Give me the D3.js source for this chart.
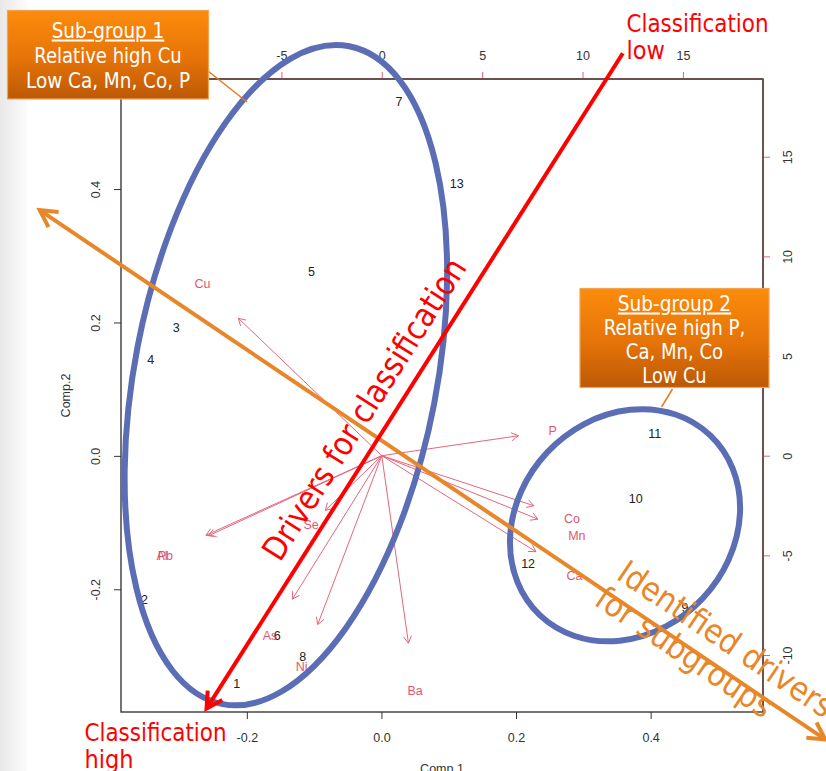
<!DOCTYPE html>
<html lang="en">
<head>
<meta charset="UTF-8">
<title>PCA biplot - sub-groups and drivers</title>
<script src="https://cdn.jsdelivr.net/npm/d3@7"></script>
<style>
  body { margin: 0; background: #fff; }
  svg { display: block; }
  .rtxt { font-family: 'Liberation Sans', Arial, sans-serif; font-size: 12.5px; }
  .slide { font-family: 'DejaVu Sans Condensed', 'DejaVu Sans', sans-serif; }
</style>
</head>
<body>
<script>
// observation scores (bottom / left axes)
const obsLabels = ["1", "2", "3", "4", "5", "6", "7", "8", "9", "10", "11", "12", "13"];
const obsComp1 = [-0.215, -0.352, -0.305, -0.343, -0.104, -0.155, 0.026, -0.117, 0.451, 0.378, 0.406, 0.218, 0.112];
const obsComp2 = [-0.341, -0.216, 0.193, 0.145, 0.276, -0.269, 0.531, -0.301, -0.227, -0.064, 0.033, -0.161, 0.409];

// variable loadings (top / right axes)
const varNames = ["Cu", "P", "Co", "Mn", "Ca", "Ba", "Se", "Al", "Pb", "As", "Ni"];
const varComp1 = [-8.93, 8.51, 9.47, 9.72, 9.60, 1.66, -3.52, -10.95, -10.78, -5.57, -3.99];
const varComp2 = [8.62, 1.25, -3.14, -3.98, -6.02, -11.76, -3.43, -4.99, -5.02, -9.00, -10.59];

// tick labels
const comp1Ticks = [-0.2, 0.0, 0.2, 0.4];
const comp2Ticks = [-0.2, 0.0, 0.2, 0.4];
const loadXTicks = [-5, 0, 5, 10, 15];
const loadYTicks = [-10, -5, 0, 5, 10, 15];

// callout texts
const group1Lines = ["Sub-group 1", "Relative high Cu", "Low Ca, Mn, Co, P"];
const group2Lines = ["Sub-group 2", "Relative high P,", "Ca, Mn, Co", "Low Cu"];
const classLow = ["Classification", "low"];
const classHigh = ["Classification", "high"];
const driverText = "Drivers for classification";
const subgroupText = ["Identified drivers", "for subgroups"];

const W = 826, H = 771;
const svg = d3.select("body").append("svg").attr("width", W).attr("height", H);
const defs = svg.append("defs");

// slide backdrop (soft grey strip on the left)
const bg = defs.append("linearGradient").attr("id", "bgL");
bg.append("stop").attr("offset", 0).attr("stop-color", "#e8e8e8");
bg.append("stop").attr("offset", 1).attr("stop-color", "#fbfbfb");
svg.append("rect").attr("x", 0).attr("y", 0).attr("width", 27).attr("height", H).attr("fill", "url(#bgL)");

const box = defs.append("linearGradient").attr("id", "boxG").attr("x1", 0).attr("y1", 0).attr("x2", 0).attr("y2", 1);
box.append("stop").attr("offset", 0).attr("stop-color", "#fc8c0c");
box.append("stop").attr("offset", 0.55).attr("stop-color", "#e57308");
box.append("stop").attr("offset", 1).attr("stop-color", "#bc5905");

// scales
const x = d3.scaleLinear().domain([-0.387, 0.567]).range([121, 763]);
const y = d3.scaleLinear().domain([-0.384, 0.565]).range([712, 79]);
const x2 = d3.scaleLinear().domain([-12.99, 18.99]).range([121, 763]);
const y2 = d3.scaleLinear().domain([-12.86, 18.90]).range([712, 79]);

const plot = svg.append("g").attr("class", "rtxt");

plot.append("rect")
    .attr("x", 121).attr("y", 79).attr("width", 642).attr("height", 633)
    .attr("fill", "#fff").attr("stroke", "#3a3a3a").attr("stroke-width", 1.4);

const fmt1 = d => d.toFixed(1);
// bottom axis
const gB = plot.append("g").attr("transform", "translate(0,712)")
    .call(d3.axisBottom(x).tickValues(comp1Ticks).tickSize(7).tickPadding(14).tickFormat(fmt1));
// left axis
const gL = plot.append("g").attr("transform", "translate(121,0)")
    .call(d3.axisLeft(y).tickValues(comp2Ticks).tickSize(7).tickFormat(fmt1));
gL.selectAll("text").attr("x", null).attr("dy", null).attr("text-anchor", "middle")
    .attr("transform", "translate(-21,0) rotate(-90)");
// top axis (loadings)
const gT = plot.append("g").attr("transform", "translate(0,79)")
    .call(d3.axisTop(x2).tickValues(loadXTicks).tickSize(7).tickPadding(12).tickFormat(d => String(d)));
// right axis (loadings)
const gR = plot.append("g").attr("transform", "translate(763,0)")
    .call(d3.axisRight(y2).tickValues(loadYTicks).tickSize(7).tickFormat(d => String(d)));
gR.selectAll("text").attr("x", null).attr("dy", null).attr("text-anchor", "middle")
    .attr("transform", "translate(29,0) rotate(-90)");

[gB, gL, gT, gR].forEach(g => {
    g.select(".domain").remove();
    g.selectAll("text").attr("fill", "#333").style("font-size", "12.5px")
        .style("font-family", "'Liberation Sans', Arial, sans-serif");
});
gB.selectAll("line").attr("stroke", "#333");
gL.selectAll("line").attr("stroke", "#333");
gT.selectAll("line").attr("stroke", "#e0607a");
gR.selectAll("line").attr("stroke", "#e0607a");
plot.append("line").attr("x1", 121).attr("x2", 763).attr("y1", 79).attr("y2", 79)
    .attr("stroke", "#6a4444").attr("stroke-width", 1.4);
plot.append("line").attr("x1", 763).attr("x2", 763).attr("y1", 79).attr("y2", 712)
    .attr("stroke", "#6a4444").attr("stroke-width", 1.4);

// axis titles
plot.append("text").attr("x", (121 + 763) / 2).attr("y", 773).attr("text-anchor", "middle")
    .attr("fill", "#333").text("Comp.1");
plot.append("text").attr("transform", `translate(70,${(79 + 712) / 2}) rotate(-90)`)
    .attr("text-anchor", "middle").attr("fill", "#333").text("Comp.2");

// observation labels
plot.append("g").selectAll("text").data(obsLabels).join("text")
    .attr("x", (d, i) => x(obsComp1[i]))
    .attr("y", (d, i) => y(obsComp2[i]))
    .attr("dy", "0.36em").attr("text-anchor", "middle").attr("fill", "#222")
    .text(d => d);

// open v-shaped arrow head
function vHead(g, tipX, tipY, fromX, fromY, len, ang, color, width) {
    const a = Math.atan2(fromY - tipY, fromX - tipX);
    const p1 = [tipX + len * Math.cos(a + ang), tipY + len * Math.sin(a + ang)];
    const p2 = [tipX + len * Math.cos(a - ang), tipY + len * Math.sin(a - ang)];
    g.append("path").attr("d", d3.line()([p1, [tipX, tipY], p2]))
        .attr("fill", "none").attr("stroke", color).attr("stroke-width", width)
        .attr("stroke-linejoin", "miter");
}

// variable arrows
const arrows = plot.append("g");
const ox = x2(0), oy = y2(0);
varNames.forEach((name, i) => {
    const tx = x2(0.8 * varComp1[i]), ty = y2(0.8 * varComp2[i]);
    arrows.append("line").attr("x1", ox).attr("y1", oy).attr("x2", tx).attr("y2", ty)
        .attr("stroke", "#e4667c").attr("stroke-width", 1);
    vHead(arrows, tx, ty, ox, oy, 8, Math.PI / 6, "#e4667c", 1);
    arrows.append("text").attr("x", x2(varComp1[i])).attr("y", y2(varComp2[i]))
        .attr("dy", "0.36em").attr("text-anchor", "middle").attr("fill", "#e0455e")
        .attr("opacity", 0.9).text(name);
});

// ---- slide annotations (in data units of the score axes) ----
const ann = svg.append("g").attr("class", "slide");
const rings = [
    { cx: -0.142, cy: 0.121, rx: 0.2244, ry: 0.5022, tilt: 10.9 },
    { cx: 0.362, cy: -0.104, rx: 0.1585, ry: 0.1857, tilt: 43.3 }
];
rings.forEach(r => {
    ann.append("ellipse")
        .attr("transform", `translate(${x(r.cx)},${y(r.cy)}) rotate(${r.tilt})`)
        .attr("rx", x(r.rx) - x(0)).attr("ry", y(0) - y(r.ry))
        .attr("fill", "none").attr("stroke", "#5b6db4").attr("stroke-width", 6);
});

// orange double arrow
const orange = "#e8872a";
const oA = [x(-0.5078), y(0.3683)], oB = [x(0.6595), y(-0.4251)];
ann.append("line").attr("x1", oA[0]).attr("y1", oA[1]).attr("x2", oB[0]).attr("y2", oB[1])
    .attr("stroke", orange).attr("stroke-width", 4);
vHead(ann, oA[0], oA[1], oB[0], oB[1], 19, 0.5, orange, 4);
vHead(ann, oB[0], oB[1], oA[0], oA[1], 19, 0.5, orange, 4);

// red arrow
const red = "#ff0000";
const rA = [x(0.3587), y(0.6036)], rB = [x(-0.2599), y(-0.3789)];
ann.append("line").attr("x1", rA[0]).attr("y1", rA[1]).attr("x2", rB[0]).attr("y2", rB[1])
    .attr("stroke", red).attr("stroke-width", 4);
vHead(ann, rB[0], rB[1], rA[0], rA[1], 18, 0.5, red, 4);

// texts along the arrows
ann.append("text").attr("transform", "translate(280,563) rotate(-57.6)")
    .attr("fill", red).style("font-size", "33px")
    .attr("textLength", 350).attr("lengthAdjust", "spacingAndGlyphs")
    .text(driverText);

const sub = ann.append("text").attr("transform", "translate(615,578) rotate(34)")
    .attr("fill", orange).style("font-size", "33px");
sub.append("tspan").attr("x", 0).attr("y", 0)
    .attr("textLength", 252).attr("lengthAdjust", "spacingAndGlyphs").text(subgroupText[0]);
sub.append("tspan").attr("x", -4).attr("y", 34)
    .attr("textLength", 206).attr("lengthAdjust", "spacingAndGlyphs").text(subgroupText[1]);

// classification labels
const low = ann.append("text").attr("fill", red).style("font-size", "25px");
low.append("tspan").attr("x", 626.5).attr("y", 31.5)
    .attr("textLength", 142).attr("lengthAdjust", "spacingAndGlyphs").text(classLow[0]);
low.append("tspan").attr("x", 626.5).attr("y", 59).text(classLow[1]);
const high = ann.append("text").attr("fill", red).style("font-size", "25px");
high.append("tspan").attr("x", 84.5).attr("y", 740.5)
    .attr("textLength", 142).attr("lengthAdjust", "spacingAndGlyphs").text(classHigh[0]);
high.append("tspan").attr("x", 84.5).attr("y", 768).text(classHigh[1]);

// callout boxes
function callout(lines, widths, bx, by, bw, bh, firstBase, step, lead) {
    ann.append("line").attr("x1", lead[0]).attr("y1", lead[1]).attr("x2", lead[2]).attr("y2", lead[3])
        .attr("stroke", "#e67a1c").attr("stroke-width", 1.5);
    ann.append("rect").attr("x", bx).attr("y", by).attr("width", bw).attr("height", bh)
        .attr("fill", "url(#boxG)").attr("stroke", "#f4a352").attr("stroke-width", 1.2);
    const t = ann.append("text").attr("fill", "#fff").attr("text-anchor", "middle").style("font-size", "20.5px");
    lines.forEach((s, i) => {
        t.append("tspan").attr("x", bx + bw / 2).attr("y", firstBase + i * step)
            .attr("textLength", widths[i]).attr("lengthAdjust", "spacingAndGlyphs")
            .style("text-decoration", i === 0 ? "underline" : null)
            .text(s);
    });
}
callout(group1Lines, [112.6, 147.4, 164], 7.5, 10.5, 201, 88.5, 37.5, 25, [208, 71, 247, 102]);
callout(group2Lines, [113.3, 141.7, 97.3, 64.3], 580, 288.5, 189, 99, 310.5, 24, [672.5, 389, 661.5, 407]);
</script>
</body>
</html>
